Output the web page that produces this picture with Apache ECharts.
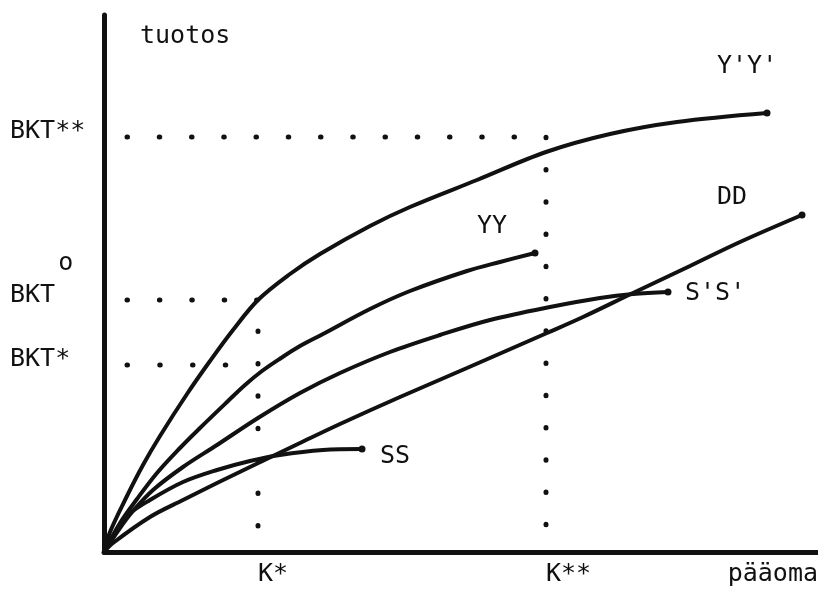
<!DOCTYPE html>
<html>
<head>
<meta charset="utf-8">
<title>tuotos / pääoma</title>
<script src="https://cdn.jsdelivr.net/npm/echarts@6/dist/echarts.min.js"></script>
<style>
    html, body { margin: 0; padding: 0; background: #fff; }
    #chart { width: 818px; height: 595px; }
</style>
</head>
<body>
<div id="chart"></div>
<script>
// curves, [pääoma, tuotos]
var curveYYp = [[0, 0], [6, 20], [23, 56], [39, 87], [56, 116], [83, 158], [106, 191], [129, 222], [154, 252],
    [186, 278], [216, 298], [266, 326], [306, 345], [373, 372], [442, 400], [506, 418], [573, 430], [663, 439]];
var curveYY = [[0, 0], [16, 29], [33, 53], [53, 79], [76, 104], [96, 124], [123, 150], [141, 167], [158, 181],
    [177, 194], [196, 206], [219, 218], [266, 243], [306, 261], [363, 281], [396, 290], [431, 299]];
var curveSSp = [[0, 0], [16, 24], [29, 41], [49, 62], [79, 85], [113, 107], [154, 134], [196, 159],
    [236, 179], [286, 200], [336, 217], [386, 232], [446, 245], [496, 254], [529, 258], [564, 260]];
var curveSS = [[0, 0], [11, 19], [24, 37], [46, 52], [79, 70], [113, 82], [146, 91], [176, 97],
    [219, 102], [258, 103]];
var curveDD = [[0, 0], [9, 9], [46, 35], [79, 52], [113, 69], [146, 85], [196, 109], [236, 128],
    [296, 155], [363, 184], [443, 219], [479, 235], [529, 259], [586, 286], [636, 310], [698, 337]];

// guide levels
var kStar = 154, kStar2 = 442;
var bktStar = 187, bktO = 252, bktStar2 = 415;
var guideStart = 23;

var xTickValues = [kStar, kStar2];
var xTickLabels = ['K*', 'K**'];
var yTickValues = [bktStar, bktO, bktStar2];
var yTickLabels = ['BKT*', 'BKT^o', 'BKT**'];

var ink = '#111';
var mono = 'DejaVu Sans Mono';
var fs = 25;

var chart = echarts.init(document.getElementById('chart'));

// dotted guide: round caps on near-zero dashes give the dots
function guide(points, period) {
    return {
        type: 'line',
        data: points,
        symbol: 'none',
        silent: true,
        z: 2,
        lineStyle: { color: ink, width: 5, type: [0.5, period - 0.5], cap: 'round' }
    };
}

function curve(name, points, offset) {
    var last = points.length - 1;
    return {
        name: name,
        type: 'line',
        smooth: 0.35,
        z: 3,
        silent: true,
        symbol: 'circle',
        symbolSize: function (v, p) { return p.dataIndex === last ? 7 : 0; },
        itemStyle: { color: ink },
        lineStyle: { color: ink, width: 4 },
        data: points.map(function (p, i) {
            if (i !== last) return p;
            return {
                value: p,
                label: {
                    show: true, formatter: name, position: 'right', distance: 0,
                    align: 'left', verticalAlign: 'middle', offset: offset,
                    fontFamily: mono, fontSize: fs, color: ink
                }
            };
        })
    };
}

var option = {
    backgroundColor: '#fff',
    animation: false,
    textStyle: { fontFamily: mono },
    grid: { left: 104, right: 0, top: 15, bottom: 43, containLabel: false, outerBoundsMode: 'none' },
    xAxis: {
        type: 'value', min: 0, max: 714,
        name: 'pääoma', nameLocation: 'end', nameGap: 0,
        nameTextStyle: { fontFamily: mono, fontSize: fs, color: ink, align: 'right', verticalAlign: 'top', padding: [10, 0, 0, 0] },
        axisLine: { show: true, onZero: false, lineStyle: { color: ink, width: 5 } },
        axisTick: { show: false },
        splitLine: { show: false },
        axisLabel: {
            customValues: xTickValues, margin: 10, align: 'left',
            fontFamily: mono, fontSize: fs, color: ink,
            formatter: function (v) { return xTickLabels[xTickValues.indexOf(v)]; }
        }
    },
    yAxis: {
        type: 'value', min: 0, max: 537,
        name: 'tuotos', nameLocation: 'end', nameGap: -21,
        nameTextStyle: { fontFamily: mono, fontSize: fs, color: ink, align: 'left', verticalAlign: 'middle', padding: [0, 0, 0, 36] },
        axisLine: { show: true, onZero: false, lineStyle: { color: ink, width: 5 } },
        axisTick: { show: false },
        splitLine: { show: false },
        axisLabel: {
            customValues: yTickValues, margin: 94, align: 'left', verticalAlign: 'middle',
            padding: [0, 0, 12, 0],
            fontFamily: mono, fontSize: fs, color: ink,
            formatter: function (v) {
                var t = yTickLabels[yTickValues.indexOf(v)];
                if (t.indexOf('^') < 0) return t;
                var parts = t.split('^');
                return '{m|' + parts[0] + '}{s|' + parts[1] + '}';
            },
            rich: {
                m: { fontFamily: mono, fontSize: fs, color: ink, padding: [32, 0, 30, 0] },
                s: { fontFamily: mono, fontSize: fs, color: ink, verticalAlign: 'top', padding: [0, 0, 0, 3] }
            }
        }
    },
    series: [
        guide([[guideStart, bktStar2], [kStar2, bktStar2], [kStar2, 0]], 32.25),
        guide([[guideStart, bktO], [kStar, bktO], [kStar, 0]], 32.4),
        guide([[guideStart, bktStar], [kStar, bktStar]], 32.75),
        curve("Y'Y'", curveYYp, [-53.5, -47]),
        curve('YY', curveYY, [-61.5, -27]),
        curve("S'S'", curveSSp, [13.5, 1]),
        curve('SS', curveSS, [14.5, 7]),
        curve('DD', curveDD, [-88.5, -18])
    ]
};

chart.setOption(option);

window.addEventListener('resize', function () {
    chart.resize();
});
</script>
</body>
</html>
